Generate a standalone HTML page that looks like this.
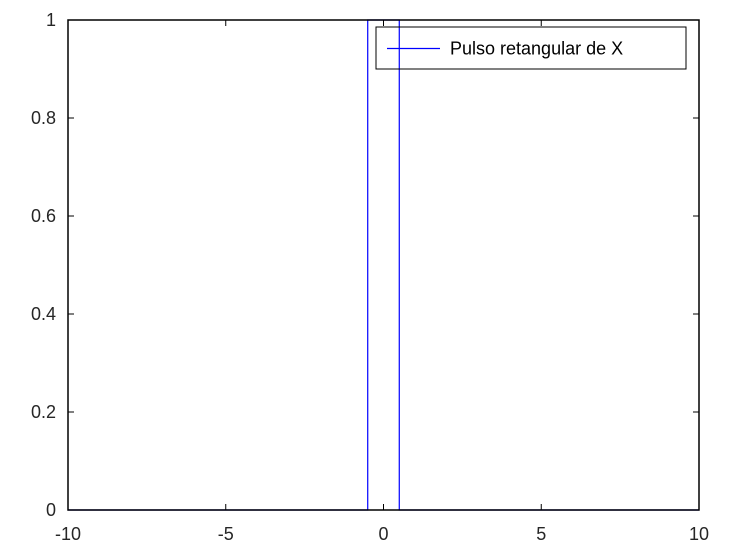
<!DOCTYPE html>
<html><head><meta charset="utf-8"><style>
body{margin:0;background:#fff;}
svg{display:block;font-family:"Liberation Sans",sans-serif;}
</style></head><body>
<svg id="chart" width="735" height="552"></svg>
<script>
const xs=[-10,-0.5,-0.5,0.5,0.5,10];
const ys=[0,0,1,1,0,0];
const xTicks=[-10,-5,0,5,10];
const xTickLabels=["-10","-5","0","5","10"];
const yTicks=[0,0.2,0.4,0.6,0.8,1];
const yTickLabels=["0","0.2","0.4","0.6","0.8","1"];
const L=68,R=699,T=20,B=510;
const sx=v=>L+(v+10)/20*(R-L);
const sy=v=>B-v*(B-T);
const svg=document.getElementById('chart');
const NS='http://www.w3.org/2000/svg';
function mk(tag,attrs){const e=document.createElementNS(NS,tag);for(const k in attrs)e.setAttribute(k,attrs[k]);svg.appendChild(e);return e;}
let pts=xs.map((v,i)=>sx(v)+','+sy(ys[i])).join(' ');
let pl=mk('polyline',{points:pts,fill:'none',stroke:'#0000ff','stroke-width':1.2});


let frame=mk('rect',{x:L,y:T,width:R-L,height:B-T,fill:'none',stroke:'#000','stroke-width':1.5});


xTicks.forEach((t,i)=>{
 const x=sx(t);
 let a=mk('line',{x1:x,x2:x,y1:B,y2:B-6,stroke:'#000'});
 
 
 let b=mk('line',{x1:x,x2:x,y1:T,y2:T+6,stroke:'#000'});
 
 
 let tx=mk('text',{x:x,y:B+30,'text-anchor':'middle','font-size':18,fill:'#262626'});
 tx.textContent=xTickLabels[i];
 
 
});
yTicks.forEach((t,i)=>{
 const y=sy(t);
 let a=mk('line',{x1:L,x2:L+6,y1:y,y2:y,stroke:'#000'});
 
 
 let b=mk('line',{x1:R,x2:R-6,y1:y,y2:y,stroke:'#000'});
 
 
 let tx=mk('text',{x:L-12,y:y+6,'text-anchor':'end','font-size':18,fill:'#262626'});
 tx.textContent=yTickLabels[i];
 
 
});
let lg=mk('rect',{x:376,y:27,width:310,height:42,fill:'none',stroke:'#000'});


let ll=mk('line',{x1:387,x2:440,y1:48.5,y2:48.5,stroke:'#0000ff','stroke-width':1.2});


let lt=mk('text',{x:450,y:54.5,'font-size':18,fill:'#000'});
lt.textContent='Pulso retangular de X';


</script>
</body></html>
